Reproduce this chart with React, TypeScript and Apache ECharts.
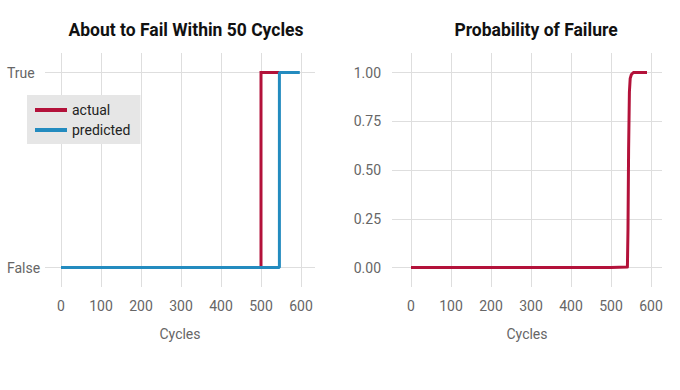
import React, { useEffect, useRef } from "react";
import * as echarts from "echarts";

const xTicks = [0, 100, 200, 300, 400, 500, 600];
const actualCycles = [0, 500, 500, 546];
const actualValues = [0, 0, 1, 1];
const predictedCycles = [0, 546, 546, 597];
const predictedValues = [0, 0, 1, 1];
const probCycles = [0, 100, 200, 300, 400, 500, 541, 542.5, 544, 546, 548, 551, 556, 590];
const probValues = [0, 0, 0, 0, 0, 0, 0.002, 0.2, 0.6, 0.9, 0.97, 0.99, 1.0, 1.0];
const probTicks = [0, 0.25, 0.5, 0.75, 1];
const boolTicks = [0, 1];

const RED = "#B3123A";
const BLUE = "#238BBF";
const FONT = "Roboto, 'Noto Sans', sans-serif";
const TITLE_FONT = "Roboto, 'Noto Sans', sans-serif";

const zip = (xs: number[], ys: number[]) => xs.map((x, i) => [x, ys[i]]);

export default function App() {
  const ref = useRef<HTMLDivElement>(null);
  useEffect(() => {
    const chart = echarts.init(ref.current!, null, { renderer: "svg" });
    const grid = { color: "#dedede", width: 1 };
    const xAxisBase = (gridIndex: number, min: number, max: number) => ({
      type: "value",
      gridIndex,
      min,
      max,
      name: "Cycles",
      nameLocation: "middle",
      nameGap: 40,
      nameTextStyle: { color: "#666", fontSize: 14, fontFamily: FONT },
      axisLine: { show: false },
      axisTick: { show: false, customValues: xTicks },
      axisLabel: { customValues: xTicks, color: "#666", fontSize: 14, fontFamily: FONT, margin: 12 },
      splitLine: { show: true, lineStyle: grid },
    });
    chart.setOption({
      animation: false,
      backgroundColor: "#fff",
      title: [
        { text: "About to Fail Within 50 Cycles", left: 181, top: 16, textAlign: "center",
          textStyle: { fontFamily: TITLE_FONT, fontWeight: "bold", fontSize: 17.5, color: "#111" } },
        { text: "Probability of Failure", left: 531, top: 16, textAlign: "center",
          textStyle: { fontFamily: TITLE_FONT, fontWeight: "bold", fontSize: 17.5, color: "#111" } },
      ],
      legend: {
        orient: "vertical",
        left: 27,
        top: 95,
        backgroundColor: "#e6e6e6",
        padding: [8, 10, 7, 8],
        itemWidth: 32,
        itemHeight: 4,
        itemGap: 6,
        icon: "rect",
        data: ["actual", "predicted"],
        textStyle: { color: "#222", fontSize: 14, fontFamily: FONT },
      },
      grid: [
        { left: 45, top: 53, width: 270, height: 234 },
        { left: 392, top: 53, width: 270, height: 234 },
      ],
      xAxis: [xAxisBase(0, -40, 635), xAxisBase(1, -47.5, 627.5)],
      yAxis: [
        {
          type: "value", gridIndex: 0, min: -0.1, max: 1.1,
          axisLine: { show: false },
          axisTick: { show: false, customValues: boolTicks },
          axisLabel: {
            customValues: boolTicks, align: "left", margin: 38, color: "#666", fontSize: 14, fontFamily: FONT,
            formatter: (v: number) => (v >= 0.5 ? "True" : "False"),
          },
          splitLine: { show: true, lineStyle: grid },
        },
        {
          type: "value", gridIndex: 1, min: -0.1, max: 1.1,
          axisLine: { show: false },
          axisTick: { show: false, customValues: probTicks },
          axisLabel: {
            customValues: probTicks, margin: 11, color: "#666", fontSize: 14, fontFamily: FONT,
            formatter: (v: number) => v.toFixed(2),
          },
          splitLine: { show: true, lineStyle: grid },
        },
      ],
      series: [
        {
          name: "actual", type: "line", xAxisIndex: 0, yAxisIndex: 0, data: zip(actualCycles, actualValues),
          showSymbol: false, color: RED, lineStyle: { color: RED, width: 3, join: "miter" }, z: 2,
        },
        {
          name: "predicted", type: "line", xAxisIndex: 0, yAxisIndex: 0, data: zip(predictedCycles, predictedValues),
          showSymbol: false, color: BLUE, lineStyle: { color: BLUE, width: 3 }, z: 3,
        },
        {
          name: "probability", type: "line", xAxisIndex: 1, yAxisIndex: 1, data: zip(probCycles, probValues),
          showSymbol: false, color: RED, lineStyle: { color: RED, width: 3, join: "round" }, z: 2,
        },
      ],
    });
    return () => chart.dispose();
  }, []);
  return <div ref={ref} style={{ width: 680, height: 390, position: "absolute", left: 0, top: 0 }} />;
}
